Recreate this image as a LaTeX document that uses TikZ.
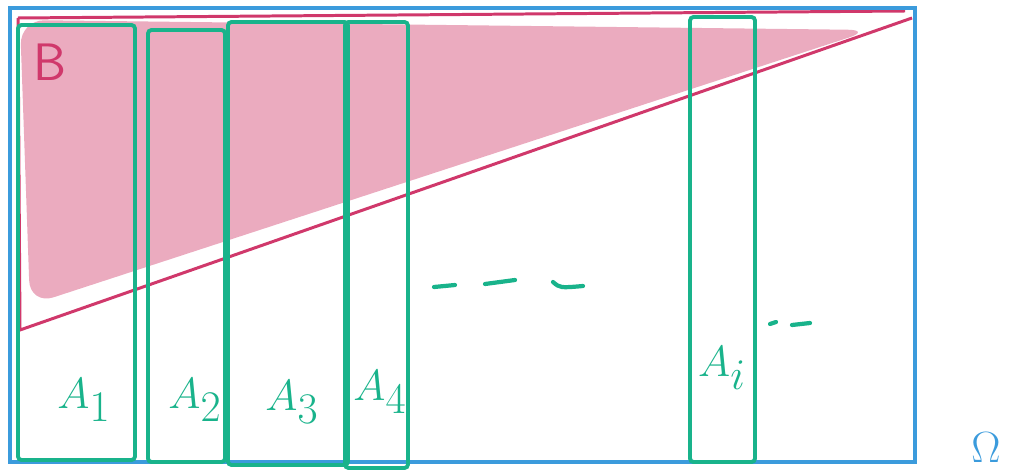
\documentclass[tikz,border=0pt]{standalone}
\definecolor{SketchBlue}{HTML}{3B9BDC}
\definecolor{SketchRed}{HTML}{D0386B}
\definecolor{SketchPink}{HTML}{EBABBF}
\definecolor{SketchGreen}{HTML}{19B38B}
\usepackage{amsmath, amssymb}
\usepackage{tikz}
\usetikzlibrary{positioning, calc}

\begin{document}
\begin{tikzpicture}[
        x=0.02cm, y=-0.02cm,
        strip/.style={draw=SketchGreen, line width=2.2pt, rounded corners=2pt},
        lbl/.style={text=SketchGreen, font=\fontsize{38}{42}\selectfont},
        dashline/.style={SketchGreen, line width=2.4pt, line cap=round}
    ]
        \useasboundingbox (0,0) rectangle (1034,476);
        % event B
        \fill[SketchPink, rounded corners=14pt] (20,20) -- (872,30) -- (30,305) -- cycle;
        \draw[SketchRed, line width=1.7pt] (18,18) -- (905,11);
        \draw[SketchRed, line width=1.7pt] (18,18) -- (20,330) -- (912,18);
        \node[text=SketchRed, font=\fontsize{30}{34}\selectfont\sffamily] (b) at (50,62) {B};
        % sample space
        \draw[SketchBlue, line width=1.8pt] (10,8) rectangle (915,462);
        \node[text=SketchBlue, anchor=south, inner sep=2pt, font=\fontsize{28}{32}\selectfont] (omega) at (986,466) {$\Omega$};
        % partition
        \draw[strip] (18,25) rectangle (135,460);
        \draw[strip] (148,30) rectangle (225,462);
        \draw[strip] (228,22) rectangle (348,465);
        \draw[strip] (345,22) rectangle (408,468);
        \draw[strip] (690,17) rectangle (755,462);
        \node[lbl] (a1) at (84,400) {$A_1$};
        \node[lbl] (a2) at (195,400) {$A_2$};
        \node[lbl] (a3) at (292,402) {$A_3$};
        \node[lbl] (a4) at (380,392) {$A_4$};
        \node[lbl] (ai) at (722,368) {$A_i$};
        % dots
        \draw[dashline] (434,287) -- (455,285);
        \draw[dashline] (485,284) -- (515,280);
        \draw[dashline] (553,282) .. controls (560,288) .. (583,286);
        \draw[dashline] (770,324) -- (776,322);
        \draw[dashline] (792,325) -- (810,323);
    \end{tikzpicture}
\end{document}
